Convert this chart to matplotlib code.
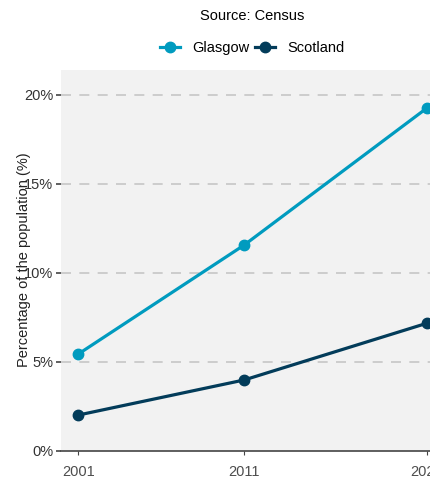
import matplotlib.pyplot as plt
from matplotlib.ticker import FuncFormatter

years = [2001, 2011, 2022]
glasgow = [5.45, 11.57, 19.25]
scotland = [2.02, 3.99, 7.17]
y_ticks = [0, 5, 10, 15, 20]

plt.rcParams['font.family'] = ['Liberation Sans', 'DejaVu Sans']

fig = plt.figure(figsize=(4.3, 4.8), dpi=100)
ax = fig.add_axes([61 / 430, 29 / 480, 383 / 430, 381 / 480])
ax.set_facecolor('#f2f2f2')

ax.plot(years, glasgow, color='#009bbf', lw=2.3, marker='o', ms=7.5,
        label='Glasgow', zorder=3, clip_on=False)
ax.plot(years, scotland, color='#033c5a', lw=2.3, marker='o', ms=7.5,
        label='Scotland', zorder=3, clip_on=False)

ax.set_xlim(1999.95, 2023.05)
ax.set_ylim(0, 21.4)
ax.set_xticks(years)
ax.set_yticks(y_ticks)
ax.yaxis.set_major_formatter(FuncFormatter(lambda v, p: f'{v:.0f}%'))

for y in y_ticks[1:]:
    ax.axhline(y, color='#c6c6c6', lw=1.2, ls=(0, (6, 5)), zorder=1)

for s in ['top', 'right', 'left']:
    ax.spines[s].set_visible(False)
ax.spines['bottom'].set_color('#444444')
ax.spines['bottom'].set_linewidth(1.2)

ax.tick_params(axis='y', length=3.5, width=1.2, color='#444444',
               labelsize=10.5, labelcolor='#333333', pad=2)
ax.tick_params(axis='x', length=3, width=0.8, color='#444444',
               labelsize=10.5, labelcolor='#4d4d4d', pad=7)

fig.text(24 / 430, 1 - 260 / 480, 'Percentage of the population (%)',
         rotation=90, ha='center', va='center', fontsize=10.5, color='#222222')

fig.legend(loc='center', bbox_to_anchor=(252 / 430, 1 - 32 / 480), ncol=2,
           frameon=False, title='Source: Census', fontsize=10.5,
           title_fontsize=10.5, handlelength=1.4, columnspacing=0.4,
           handletextpad=0.8, borderpad=0, labelspacing=1.3)

fig.savefig('out.png', dpi=100)
